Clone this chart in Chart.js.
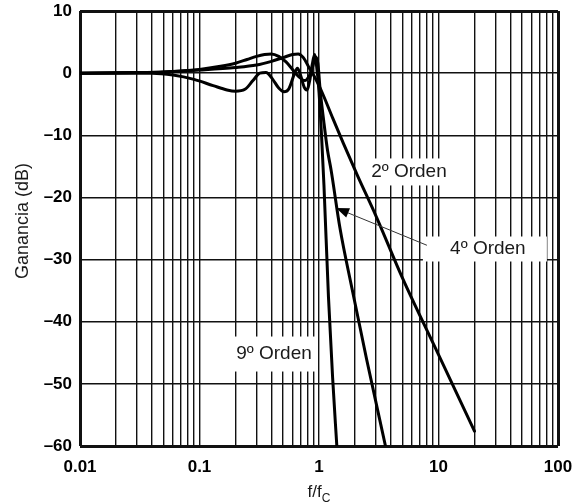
<!DOCTYPE html>
<html>
<head>
<meta charset="utf-8">
<script src="https://cdn.jsdelivr.net/npm/chart.js@4.4.1/dist/chart.umd.min.js"></script>
<style>
  html, body { margin: 0; padding: 0; background: #fff; }
</style>
</head>
<body>
<canvas id="filtro" width="576" height="504"></canvas>
<script>
// f/fc and gain (dB), one pair of arrays per filter order
const freq2 = [0.01, 0.03, 0.05, 0.1, 0.2, 0.3, 0.4, 0.5, 0.6, 0.67, 0.74, 0.82, 0.9, 1.0, 1.1, 1.3, 1.6, 2.1, 3, 5, 10, 20];
const gain2 = [0, 0.1, 0.2, 0.5, 0.9, 1.3, 1.9, 2.5, 3.0, 3.1, 2.5, 1.0, -0.3, -2.0, -3.8, -7.2, -11.3, -16.5, -23, -33, -45.3, -57.6];

const freq4 = [0.01, 0.03, 0.05, 0.1, 0.15, 0.2, 0.25, 0.3, 0.35, 0.4, 0.46, 0.53, 0.6, 0.68, 0.76, 0.83, 0.89, 0.94, 0.98, 1.02, 1.1, 1.18, 1.26, 1.5, 1.89, 2.5, 3.6];
const gain4 = [0, 0.1, 0.2, 0.6, 1.1, 1.6, 2.2, 2.7, 3.0, 3.1, 2.7, 1.8, 0.6, -0.6, -1.2, -0.4, 1.2, 2.6, 1.5, -2.5, -8, -12.5, -15.5, -25, -34.7, -46, -60];

const freq9 = [0.01, 0.04, 0.06, 0.09, 0.13, 0.17, 0.2, 0.24, 0.28, 0.32, 0.36, 0.41, 0.46, 0.51, 0.56, 0.62, 0.66, 0.7, 0.75, 0.79, 0.84, 0.88, 0.92, 0.95, 1.0, 1.05, 1.1, 1.2, 1.3, 1.41];
const gain9 = [0, 0, -0.3, -1.0, -2.0, -2.7, -2.9, -2.6, -1.2, 0.0, 0.1, -1.0, -2.4, -3.0, -2.5, -0.2, 0.8, -0.3, -2.2, -2.7, -1.0, 1.5, 3.0, 1.5, -3.0, -10, -18, -36, -49, -60];

// axis ticks
const xDecades = [0.01, 0.1, 1, 10, 100];
const xLabels = ['0.01', '0.1', '1', '10', '100'];
const yTicks = [-60, -50, -40, -30, -20, -10, 0, 10];
const yLabels = ['\u201360', '\u201350', '\u201340', '\u201330', '\u201320', '\u201310', '0', '10'];

// labels on the plot (position in f/fc, dB)
const notes = [
  { text: '2\u00ba Orden', f: 5.66, db: -15.9, w: 92, h: 27 },
  { text: '4\u00ba Orden', f: 25.9, db: -28.3, w: 124, h: 25, dx: -3 },
  { text: '9\u00ba Orden', f: 0.42, db: -45.2, w: 88, h: 35 }
];
const arrow4 = { from: [8.0, -27.7], to: [1.39, -21.7] };

const FONT = "'Liberation Sans', Arial, sans-serif";

// grid at 1..9 x each decade
const xGrid = [];
for (let i = 0; i < xDecades.length - 1; i++) {
  for (let k = 1; k < 10; k++) xGrid.push(+(xDecades[i] * k).toPrecision(3));
}
xGrid.push(100);

function pts(f, g) {
  return f.map((v, i) => ({ x: v, y: g[i] }));
}

function lineSet(label, f, g) {
  return {
    label: label,
    data: pts(f, g),
    borderColor: '#000',
    borderWidth: 3,
    pointRadius: 0,
    fill: false,
    cubicInterpolationMode: 'monotone',
    borderCapStyle: 'round',
    borderJoinStyle: 'round'
  };
}

// drop the room Chart.js keeps for overhanging tick labels
function noPad(scale) {
  scale.paddingTop = 0;
  scale.paddingBottom = 0;
  scale.paddingLeft = 0;
  scale.paddingRight = 0;
}

const notesPlugin = {
  id: 'notes',
  beforeDatasetsDraw(chart) {
    const ctx = chart.ctx, xs = chart.scales.x, ys = chart.scales.y;
    ctx.save();
    ctx.fillStyle = '#fff';
    notes.forEach(n => {
      const cx = xs.getPixelForValue(n.f) + (n.dx || 0);
      const cy = ys.getPixelForValue(n.db);
      ctx.fillRect(cx - n.w / 2, cy - n.h / 2, n.w, n.h);
    });
    ctx.restore();
  },
  afterDatasetsDraw(chart) {
    const ctx = chart.ctx, xs = chart.scales.x, ys = chart.scales.y;
    ctx.save();
    ctx.fillStyle = '#1a1a1a';
    ctx.font = '19px ' + FONT;
    ctx.textAlign = 'center';
    ctx.textBaseline = 'middle';
    notes.forEach(n => {
      ctx.fillText(n.text, xs.getPixelForValue(n.f), ys.getPixelForValue(n.db));
    });

    // arrow for 4th order
    const x0 = xs.getPixelForValue(arrow4.from[0]), y0 = ys.getPixelForValue(arrow4.from[1]);
    const x1 = xs.getPixelForValue(arrow4.to[0]), y1 = ys.getPixelForValue(arrow4.to[1]);
    const a = Math.atan2(y1 - y0, x1 - x0);
    ctx.strokeStyle = '#333';
    ctx.lineWidth = 1;
    ctx.beginPath();
    ctx.moveTo(x0, y0);
    ctx.lineTo(x1 - 8 * Math.cos(a), y1 - 8 * Math.sin(a));
    ctx.stroke();
    ctx.fillStyle = '#000';
    ctx.beginPath();
    ctx.moveTo(x1, y1);
    ctx.lineTo(x1 - 13 * Math.cos(a) + 5 * Math.sin(a), y1 - 13 * Math.sin(a) - 5 * Math.cos(a));
    ctx.lineTo(x1 - 13 * Math.cos(a) - 5 * Math.sin(a), y1 - 13 * Math.sin(a) + 5 * Math.cos(a));
    ctx.closePath();
    ctx.fill();

    // y axis title, sits a little above the middle in the original
    ctx.fillStyle = '#1a1a1a';
    ctx.save();
    ctx.translate(23, 221);
    ctx.rotate(-Math.PI / 2);
    ctx.font = '18px ' + FONT;
    ctx.textAlign = 'center';
    ctx.textBaseline = 'middle';
    ctx.fillText('Ganancia (dB)', 0, 0);
    ctx.restore();

    // x axis title f/fC
    const area = chart.chartArea;
    const mid = (area.left + area.right) / 2;
    ctx.font = '17px ' + FONT;
    ctx.textAlign = 'left';
    ctx.textBaseline = 'alphabetic';
    const w1 = ctx.measureText('f/f').width;
    ctx.font = '12px ' + FONT;
    const w2 = ctx.measureText('C').width;
    const start = mid - (w1 + w2) / 2;
    ctx.font = '17px ' + FONT;
    ctx.fillText('f/f', start, 497);
    ctx.font = '12px ' + FONT;
    ctx.fillText('C', start + w1, 502);
    ctx.restore();
  }
};

const edgeWidth = 3;

new Chart(document.getElementById('filtro'), {
  type: 'line',
  data: {
    datasets: [
      lineSet('2\u00ba Orden', freq2, gain2),
      lineSet('4\u00ba Orden', freq4, gain4),
      lineSet('9\u00ba Orden', freq9, gain9)
    ]
  },
  options: {
    responsive: false,
    animation: false,
    devicePixelRatio: 1,
    layout: { padding: { top: 11, right: 18, left: 0, bottom: 0 } },
    plugins: {
      legend: { display: false },
      tooltip: { enabled: false }
    },
    scales: {
      x: {
        type: 'logarithmic',
        min: 0.01,
        max: 100,
        afterBuildTicks: scale => { scale.ticks = xGrid.map(v => ({ value: v })); },
        afterFit: scale => { scale.height = 58; noPad(scale); },
        border: { display: false },
        grid: {
          drawTicks: false,
          color: '#111',
          lineWidth: c => (c.tick && (c.tick.value === 0.01 || c.tick.value === 100) ? edgeWidth : 1.4)
        },
        ticks: {
          autoSkip: false,
          maxRotation: 0,
          padding: 11,
          color: '#000',
          font: { family: FONT, size: 17, weight: 'bold' },
          callback: v => {
            const i = xDecades.findIndex(d => Math.abs(v - d) / d < 1e-6);
            return i >= 0 ? xLabels[i] : '';
          }
        }
      },
      y: {
        min: -60,
        max: 10,
        afterBuildTicks: scale => { scale.ticks = yTicks.map(v => ({ value: v })); },
        afterFit: scale => { scale.width = 80; noPad(scale); },
        border: { display: false },
        grid: {
          drawTicks: false,
          color: '#111',
          lineWidth: c => (c.tick && (c.tick.value === 10 || c.tick.value === -60) ? edgeWidth : 1.4)
        },
        ticks: {
          padding: 8,
          color: '#000',
          font: { family: FONT, size: 17, weight: 'bold' },
          callback: v => yLabels[yTicks.indexOf(v)]
        }
      }
    }
  },
  plugins: [notesPlugin]
});
</script>
</body>
</html>
